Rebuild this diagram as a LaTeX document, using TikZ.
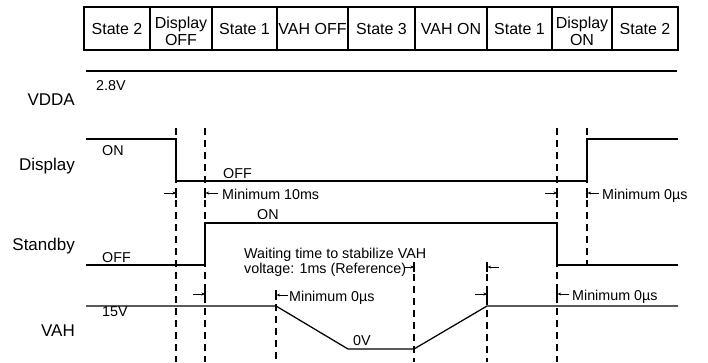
\documentclass[tikz,border=0pt]{standalone}
\usepackage{fontspec}
\setmainfont{Liberation Sans}
\usetikzlibrary{arrows.meta}
\begin{document}
\begin{tikzpicture}[x=1pt,y=-1pt,
  wave/.style={line width=1.25pt, line join=miter},
  guide/.style={line width=1.1pt, dash pattern=on 7pt off 5pt},
  tbl/.style={line width=1.1pt},
  sig/.style={font=\fontsize{17}{20}\selectfont, anchor=base east, inner sep=0},
  lvl/.style={font=\fontsize{14.3}{14.5}\selectfont, anchor=base west, inner sep=0},
  cell/.style={font=\fontsize{16}{17}\selectfont, align=center, inner sep=0},
  mk/.style={line width=0.8pt, -{Stealth[length=3.5pt,width=3pt]}},
  bar/.style={line width=1.1pt}
]
\useasboundingbox (0,0) rectangle (708,362);

% ---------- state table ----------
\draw[tbl] (84,7) rectangle (678,50);
\foreach \xx in {150,212,277,348,415,487,552,612}
  \draw[tbl] (\xx,7) -- (\xx,50);
\node[cell] (t1) at (117,29) {State 2};
\node[cell] (t2) at (181,31) {Display\\OFF};
\node[cell] (t3) at (244.5,29) {State 1};
\node[cell] (t4) at (312.5,29) {VAH OFF};
\node[cell] (t5) at (381.5,29) {State 3};
\node[cell] (t6) at (451,29) {VAH ON};
\node[cell] (t7) at (519.5,29) {State 1};
\node[cell] (t8) at (582,31) {Display\\ON};
\node[cell] (t9) at (645,29) {State 2};

% ---------- signal names ----------
\node[sig] (nVDDA) at (75,105) {VDDA};
\node[sig] (nDisp) at (75,170) {Display};
\node[sig] (nStby) at (75,250) {Standby};
\node[sig] (nVAH)  at (75,336) {VAH};

% ---------- guide lines ----------
\draw[guide] (176,128) -- (176,362);
\draw[guide] (205,128) -- (205,362);
\draw[guide] (557,128) -- (557,362);
\draw[guide] (587,128) -- (587,266);
\draw[guide] (276,292) -- (276,362);
\draw[guide] (414,262) -- (414,362);
\draw[guide] (487,262) -- (487,362);

% ---------- waveforms ----------
\draw[wave] (86,71) -- (677,71);
\draw[wave] (86,139) -- (176,139) -- (176,181) -- (587,181) -- (587,139) -- (678,139);
\draw[wave] (86,265) -- (205,265) -- (205,223) -- (557,223) -- (557,265) -- (678,265);
\draw[wave] (86,306) -- (276,306) -- (348,349) -- (414,349) -- (487,306) -- (678,306);

% ---------- level labels ----------
\node[lvl] (l28) at (96,90) {2.8V};
\node[lvl] (lDon) at (102,155) {ON};
\node[lvl] (lDoff) at (223,178) {OFF};
\node[lvl] (lSon) at (257,219) {ON};
\node[lvl] (lSoff) at (102,262) {OFF};
\node[lvl] (l15) at (102,316) {15V};
\node[lvl] (l0) at (353,345) {0V};

% ---------- timing marks ----------
\draw[bar] (176,188) -- (176,198);
\draw[bar] (205,188) -- (205,198);
\draw[mk] (164,193) -- (176,193);
\draw[mk] (218,193) -- (205.6,193);
\node[lvl] (m10) at (222,199) {Minimum 10ms};

\draw[bar] (557,188) -- (557,198);
\draw[bar] (587,188) -- (587,198);
\draw[mk] (545,193) -- (557,193);
\draw[mk] (599,193) -- (587.6,193);
\node[lvl] (m0a) at (602,199) {Minimum 0µs};

\draw[bar] (205,289) -- (205,299);
\draw[mk] (193,294) -- (205,294);

\draw[bar] (276,290) -- (276,300);
\draw[mk] (288,295) -- (276.6,295);
\node[lvl] (m0b) at (289,301) {Minimum 0µs};

\node[lvl, align=left, anchor=north west] (wait) at (244,248)
  {Waiting time to stabilize VAH\\voltage: 1ms (Reference)};
\draw[bar] (414,262) -- (414,272);
\draw[mk] (403.5,267) -- (414,267);
\draw[bar] (487,262) -- (487,272);
\draw[mk] (499,267) -- (487.6,267);

\draw[bar] (487,289) -- (487,299);
\draw[mk] (475,294) -- (487,294);

\draw[bar] (557,289) -- (557,299);
\draw[mk] (569,294) -- (557.6,294);
\node[lvl] (m0c) at (572,300) {Minimum 0µs};
\end{tikzpicture}
\end{document}
